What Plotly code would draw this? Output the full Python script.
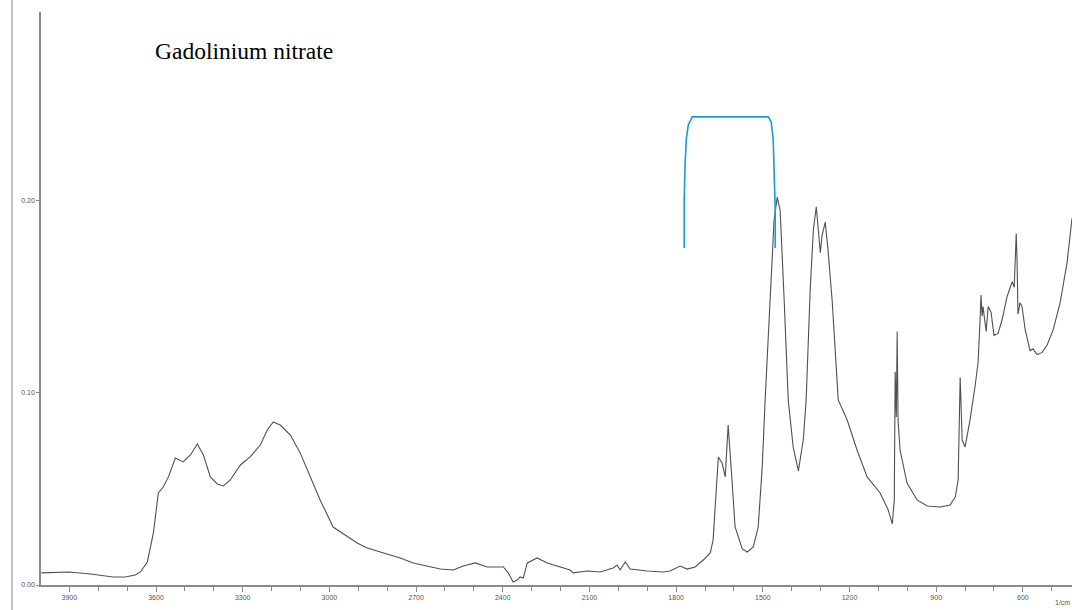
import plotly.graph_objects as go

# FTIR spectrum of gadolinium nitrate
wavenumber = [3997, 3900, 3827, 3748, 3706, 3672, 3654, 3630, 3609, 3592, 3575, 3557, 3533, 3506,
              3481, 3457, 3436, 3412, 3388, 3367, 3343, 3308, 3274, 3239, 3215, 3194, 3170, 3135,
              3101, 3066, 3032, 2987, 2952, 2904, 2869, 2814, 2755, 2710, 2616, 2571, 2537, 2495,
              2454, 2398, 2381, 2364, 2350, 2340, 2329, 2315, 2281, 2246, 2201, 2167, 2156, 2108,
              2063, 2018, 2004, 1994, 1976, 1959, 1900, 1845, 1821, 1786, 1762, 1734, 1706, 1682,
              1672, 1658, 1654, 1641, 1630, 1620, 1616, 1606, 1596, 1571, 1554, 1533, 1516, 1502,
              1492, 1475, 1461, 1450, 1440, 1426, 1412, 1395, 1377, 1360, 1350, 1336, 1325, 1315,
              1305, 1301, 1295, 1284, 1274, 1260, 1239, 1208, 1174, 1139, 1094, 1066, 1052, 1045,
              1042, 1038, 1035, 1032, 1025, 1001, 966, 931, 886, 852, 834, 824, 817, 810, 800, 783,
              765, 755, 748, 745, 741, 738, 727, 720, 710, 700, 686, 672, 655, 637, 630, 627, 623,
              620, 617, 610, 603, 592, 575, 565, 551, 534, 516, 495, 471, 447, 430]
absorbance = [0.0063, 0.0068, 0.0057, 0.0042, 0.0042, 0.0052, 0.0068, 0.0120, 0.0271, 0.0479, 0.0510,
              0.0563, 0.0661, 0.0641, 0.0677, 0.0734, 0.0677, 0.0563, 0.0526, 0.0516, 0.0547, 0.0625,
              0.0667, 0.0729, 0.0807, 0.0849, 0.0833, 0.0781, 0.0688, 0.0563, 0.0443, 0.0302, 0.0266,
              0.0219, 0.0193, 0.0167, 0.0141, 0.0115, 0.0083, 0.0078, 0.0099, 0.0115, 0.0094, 0.0094,
              0.0063, 0.0016, 0.0026, 0.0042, 0.0036, 0.0115, 0.0141, 0.0115, 0.0094, 0.0078, 0.0063,
              0.0073, 0.0068, 0.0089, 0.0104, 0.0078, 0.0120, 0.0083, 0.0073, 0.0068, 0.0073, 0.0099,
              0.0083, 0.0094, 0.0130, 0.0167, 0.0234, 0.0531, 0.0667, 0.0635, 0.0563, 0.0833, 0.0755,
              0.0531, 0.0302, 0.0188, 0.0172, 0.0198, 0.0302, 0.0615, 0.0964, 0.148, 0.190, 0.202,
              0.195, 0.148, 0.0964, 0.0719, 0.0594, 0.0755, 0.0964, 0.154, 0.185, 0.197, 0.180, 0.173,
              0.182, 0.189, 0.174, 0.148, 0.0964, 0.0859, 0.0703, 0.0563, 0.0479, 0.0391, 0.0318,
              0.0443, 0.111, 0.0875, 0.132, 0.0859, 0.0703, 0.0531, 0.0443, 0.0411, 0.0406, 0.0417,
              0.0458, 0.0547, 0.108, 0.0755, 0.0719, 0.0859, 0.104, 0.116, 0.138, 0.151, 0.140, 0.145,
              0.132, 0.145, 0.142, 0.130, 0.131, 0.138, 0.150, 0.158, 0.155, 0.164, 0.183, 0.168,
              0.141, 0.147, 0.145, 0.133, 0.122, 0.123, 0.120, 0.121, 0.125, 0.133, 0.147, 0.168, 0.191]

# blue bracket marking the nitrate band region
bracket_wn = [1772, 1772, 1769, 1765, 1758, 1744, 1481, 1471, 1464, 1461, 1457, 1457]
bracket_abs = [0.1755, 0.2005, 0.2188, 0.2318, 0.2396, 0.2438, 0.2438, 0.2411, 0.2318, 0.2161, 0.1953, 0.1755]

x_ticks = [3900, 3600, 3300, 3000, 2700, 2400, 2100, 1800, 1500, 1200, 900, 600]
y_ticks = [0.00, 0.10, 0.20]
title_text = "Gadolinium nitrate"

fig = go.Figure()
fig.add_trace(go.Scatter(x=wavenumber, y=absorbance, mode="lines",
                         line=dict(color="#505050", width=1.1), showlegend=False))
fig.add_trace(go.Scatter(x=bracket_wn, y=bracket_abs, mode="lines",
                         line=dict(color="#1a9ad6", width=1.6), showlegend=False))

axis_col = "#8a8a8a"
fig.update_layout(
    width=1072, height=610,
    margin=dict(l=41, r=0, t=12, b=25, autoexpand=False),
    paper_bgcolor="white", plot_bgcolor="white",
    xaxis=dict(range=[3998, 430], autorange=False, tickvals=x_ticks,
               ticktext=[str(v) for v in x_ticks],
               showgrid=False, zeroline=False, showline=True, linecolor=axis_col, linewidth=1.5,
               ticks="outside", ticklen=5, tickcolor=axis_col, tickwidth=1,
               tickfont=dict(family="Liberation Sans", size=7, color="#555"),
               minor=dict(dtick=100, tick0=0, ticks="outside", ticklen=4,
                          tickcolor=axis_col, tickwidth=1, showgrid=False)),
    yaxis=dict(range=[0, 0.2984], autorange=False, tickvals=y_ticks,
               ticktext=["0.00", "0.10", "0.20"],
               showgrid=False, zeroline=False, showline=True, linecolor=axis_col, linewidth=1.5,
               ticks="outside", ticklen=3, tickcolor=axis_col, tickwidth=1,
               tickfont=dict(family="Liberation Sans", size=7, color="#555")),
    annotations=[
        dict(text=title_text, xref="paper", yref="paper", x=0.1086, y=0.932,
             xanchor="left", yanchor="middle", showarrow=False,
             font=dict(family="Liberation Serif", size=23.5, color="black")),
        dict(text="1/cm", xref="paper", yref="paper", x=1.0, y=-0.031,
             xanchor="right", yanchor="middle", showarrow=False,
             font=dict(family="Liberation Sans", size=7, color="#555")),
    ],
    shapes=[dict(type="line", xref="paper", yref="paper",
                 x0=(12 - 41) / 1031, x1=(12 - 41) / 1031, y0=-0.05, y1=1.03,
                 line=dict(color="#b0b0b0", width=1.5))],
)

# remove the default page margin so the 1072x610 figure fills the window exactly
fig.write_html("out.html", config={"displayModeBar": False},
               post_script="document.body.style.margin='0';document.body.style.overflow='hidden';")
